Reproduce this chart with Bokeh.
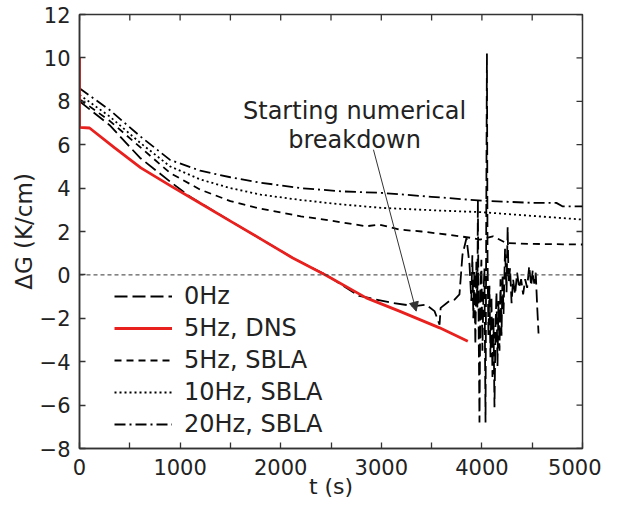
import math
from bokeh.plotting import figure
from bokeh.models import (FixedTicker, Span, Arrow, NormalHead, Label,
                          Legend, LegendItem, Range1d)
from bokeh.embed import file_html
from bokeh.resources import INLINE

# ---------------- data ----------------
t_0hz = [0, 300, 600, 900, 1100, 1500, 1800, 2120, 2450, 2780, 3110, 3330, 3446, 3529,
         3579, 3590, 3678, 3728, 3777, 3807, 3847, 3877,
         3895, 3905, 3915, 3925, 3935, 3945, 3955, 3960, 3968, 3976, 3985, 3995, 4005,
         4015, 4025, 4036, 4044, 4050, 4056, 4065, 4075, 4085, 4095, 4105, 4115, 4125,
         4135, 4145, 4155, 4165, 4175, 4185, 4195, 4205, 4215, 4230, 4245, 4256, 4265,
         4280, 4295, 4310, 4330, 4350, 4370, 4390, 4410, 4430, 4450, 4470, 4490, 4505,
         4520, 4535, 4550, 4563]
g_0hz = [8.0, 6.9, 5.4, 4.3, 3.6, 2.48, 1.66, 0.78, 0.0, -0.97, -1.29, -1.44, -1.37, -1.67,
         -2.29, -1.52, -1.2, -1.14, -0.9, 0.93, 1.7, 0.47,
         -1.2, 0.9, -2.0, 0.2, -3.2, 0.6, -1.5, 3.45, -2.5, -6.8, -0.8, 0.7, -3.5,
         -1.0, 0.3, -6.8, 3.45, 10.2, 0.8, -2.8, -0.5, -3.8, -1.0, -4.7, -2.0, -6.1,
         -2.5, -0.8, -4.2, -1.2, -3.5, -0.2, -2.8, 0.0, -1.8, 1.2, -0.8, 2.2, -0.4,
         0.3, -1.3, -0.2, -0.9, 0.1, -0.6, -0.2, -0.9, -0.2, -0.6, 0.4, -0.5, 0.2,
         -0.4, 0.1, -1.5, -2.7]

t_dns = [0, 0, 100, 350, 610, 910, 1200, 1500, 1800, 2120, 2450, 2850, 3180, 3580, 3860]
g_dns = [10.0, 6.8, 6.77, 5.85, 4.93, 4.09, 3.3, 2.48, 1.66, 0.78, -0.02, -1.06, -1.67, -2.44, -3.06]

t_5hz = [0, 300, 600, 900, 1200, 1500, 1800, 2200, 2500, 2850, 2980, 3180, 3400, 3650,
         3780, 3900, 3980, 4110, 4240, 4470, 5000]
g_5hz = [8.1, 7.1, 5.9, 4.7, 3.93, 3.4, 3.05, 2.7, 2.5, 2.24, 2.32, 2.09, 2.0, 1.86,
         1.78, 1.7, 1.63, 1.78, 1.47, 1.43, 1.4]

t_10hz = [0, 300, 600, 900, 1200, 1500, 1800, 2200, 2600, 3000, 3500, 4000, 4500, 5000]
g_10hz = [8.3, 7.3, 6.1, 5.0, 4.4, 4.0, 3.7, 3.45, 3.25, 3.09, 2.98, 2.89, 2.72, 2.55]

t_20hz = [0, 300, 600, 900, 1200, 1500, 1800, 2200, 2600, 3000, 3500, 4000, 4500, 4740,
          4800, 5000]
g_20hz = [8.6, 7.6, 6.4, 5.3, 4.8, 4.5, 4.25, 4.0, 3.85, 3.78, 3.6, 3.42, 3.32, 3.32,
          3.16, 3.16]

labels = ["0Hz", "5Hz, DNS", "5Hz, SBLA", "10Hz, SBLA", "20Hz, SBLA"]
x_major = [0, 1000, 2000, 3000, 4000, 5000]
x_minor = [500, 1500, 2500, 3500, 4500]
y_major = [-8, -6, -4, -2, 0, 2, 4, 6, 8, 10, 12]
annot_lines = ["Starting numerical", "breakdown"]

X_MIN, X_MAX, Y_MIN, Y_MAX = 0, 5000, -8, 12

FONT = "DejaVu Sans"
INK = "#222222"
FRAME = "#333333"

p = figure(width=601, height=505, x_range=Range1d(X_MIN, X_MAX), y_range=Range1d(Y_MIN, Y_MAX),
           output_backend="svg", toolbar_location=None,
           min_border_left=79, min_border_right=19, min_border_top=14, min_border_bottom=57)
p.xgrid.visible = False
p.ygrid.visible = False
p.outline_line_color = FRAME
p.outline_line_width = 1.5
p.background_fill_color = "white"
p.border_fill_color = "white"

for ax in (p.xaxis[0], p.yaxis[0]):
    ax.axis_line_color = FRAME
    ax.axis_line_width = 1.5
    ax.major_tick_in = 6
    ax.major_tick_out = 0
    ax.minor_tick_in = 6
    ax.minor_tick_out = 0
    ax.major_tick_line_color = FRAME
    ax.minor_tick_line_color = FRAME
    ax.major_tick_line_width = 1.3
    ax.minor_tick_line_width = 1.3
    ax.major_label_text_font = FONT
    ax.major_label_text_color = INK
    ax.major_label_text_font_size = "21px"
    ax.axis_label_text_font = FONT
    ax.axis_label_text_font_style = "normal"
    ax.axis_label_text_color = INK

p.xaxis.ticker = FixedTicker(ticks=x_major, minor_ticks=x_minor)
p.yaxis.ticker = FixedTicker(ticks=y_major, minor_ticks=[])
p.xaxis.major_label_standoff = 10
p.yaxis.major_label_standoff = 9
p.xaxis.axis_label = "t (s)"
p.yaxis.axis_label = "ΔG (K/cm)"
p.xaxis.axis_label_text_font_size = "22px"
p.yaxis.axis_label_text_font_size = "23px"
p.xaxis.axis_label_standoff = -4
p.yaxis.axis_label_standoff = 0

# inward ticks on the top and right edges of the frame (clipped to the frame)
x_ticks_all = sorted(x_major + x_minor)
p.scatter(x_ticks_all, [Y_MAX] * len(x_ticks_all), marker="dash", angle=math.pi / 2,
          size=12, line_color=FRAME, line_width=1.3)
p.scatter([X_MAX] * len(y_major), y_major, marker="dash", angle=0,
          size=12, line_color=FRAME, line_width=1.3)

p.add_layout(Span(location=0, dimension="width", line_color=FRAME, line_width=1,
                  line_dash="4 3"))

r0 = p.line(t_0hz, g_0hz, line_color="black", line_width=1.8, line_dash="13 5")
r20 = p.line(t_20hz, g_20hz, line_color="black", line_width=1.8, line_dash="11 4 2 4")
r10 = p.line(t_10hz, g_10hz, line_color="black", line_width=1.8, line_dash="2 3")
r5 = p.line(t_5hz, g_5hz, line_color="black", line_width=1.8, line_dash="7 5")
rd = p.line(t_dns, g_dns, line_color="#e8201e", line_width=2.8)

legend = Legend(items=[LegendItem(label=labels[0], renderers=[r0]),
                       LegendItem(label=labels[1], renderers=[rd]),
                       LegendItem(label=labels[2], renderers=[r5]),
                       LegendItem(label=labels[3], renderers=[r10]),
                       LegendItem(label=labels[4], renderers=[r20])],
                location=(35, 10))
legend.label_text_font = FONT
legend.label_text_font_size = "24px"
legend.label_text_color = INK
legend.glyph_width = 58
legend.glyph_height = 24
legend.label_height = 24
legend.spacing = 4
legend.padding = 0
legend.margin = 0
legend.label_standoff = 12
legend.background_fill_alpha = 0
legend.border_line_alpha = 0
p.add_layout(legend)

for txt, yv in zip(annot_lines, [7.56, 6.22]):
    p.add_layout(Label(x=2734, y=yv, text=txt, text_align="center",
                       text_baseline="alphabetic", text_font=FONT,
                       text_font_size="24px", text_color=INK))

p.add_layout(Arrow(end=NormalHead(size=9, fill_color=FRAME, line_color=FRAME,
                                  line_width=1),
                   x_start=2922, y_start=5.77, x_end=3347, y_end=-1.67,
                   line_color=FRAME, line_width=1))

open("out.html", "w").write(file_html(p, INLINE))
